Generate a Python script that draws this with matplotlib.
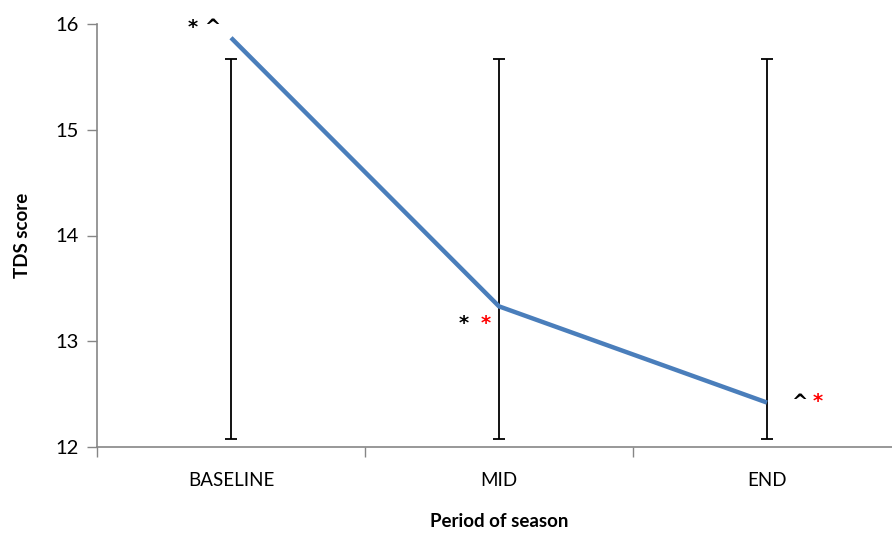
import matplotlib.pyplot as plt

periods = ["BASELINE", "MID", "END"]
tds_mean = [15.87, 13.33, 12.42]
err_low = [12.08, 12.08, 12.08]
err_high = [15.67, 15.67, 15.67]
# significance markers: (black part, red part)
marks = [("* ^", ""), ("*", "*"), ("^", "*")]

plt.rcParams["font.family"] = ["Lato", "DejaVu Sans"]

fig = plt.figure(figsize=(8.92, 5.35), dpi=100)
ax = fig.add_axes([97 / 892, 88 / 535, 804 / 892, 423 / 535])

x = list(range(len(periods)))
mid = [(lo + hi) / 2 for lo, hi in zip(err_low, err_high)]
half = [(hi - lo) / 2 for lo, hi in zip(err_low, err_high)]
ax.errorbar(x, mid, yerr=half, fmt="none", ecolor="black", elinewidth=1.3,
            capsize=4.5, capthick=1.3, zorder=2)
ax.plot(x, tds_mean, color="#4A7EBB", linewidth=3.2, solid_capstyle="butt", zorder=3)

# annotations
mk = dict(ha="center", va="center", fontsize=14, family="DejaVu Sans", fontweight="bold")
ax.text(-0.1, 15.97, marks[0][0], color="black", **mk)
ax.text(1 - 0.13, 13.17, marks[1][0], color="black", **mk)
ax.text(1 - 0.05, 13.17, marks[1][1], color="red", **mk)
ax.text(2 + 0.12, 12.42, marks[2][0], color="black", **mk)
ax.text(2 + 0.19, 12.43, marks[2][1], color="red", **mk)

ax.set_xlim(-0.5, 2.5)
ax.set_ylim(12, 16)
ax.set_yticks([12, 13, 14, 15, 16])
ax.set_xticks(x)
ax.set_xticklabels(periods, fontsize=13.5)
ax.set_xticks([-0.5, 0.5, 1.5, 2.5], minor=True)
ax.tick_params(axis="x", which="major", length=0, pad=18)
ax.tick_params(axis="x", which="minor", length=7, color="#868686", width=1)
ax.tick_params(axis="y", length=7, color="#868686", width=1, labelsize=14.5, pad=6)

for s in ["top", "right"]:
    ax.spines[s].set_visible(False)
for s in ["left", "bottom"]:
    ax.spines[s].set_color("#868686")
    ax.spines[s].set_linewidth(1.2)

ax.set_xlabel("Period of season", fontsize=13.5, fontweight="bold", labelpad=17)
ax.set_ylabel("TDS score", fontsize=13.5, fontweight="bold", labelpad=18)

fig.savefig("out.png", dpi=100)
